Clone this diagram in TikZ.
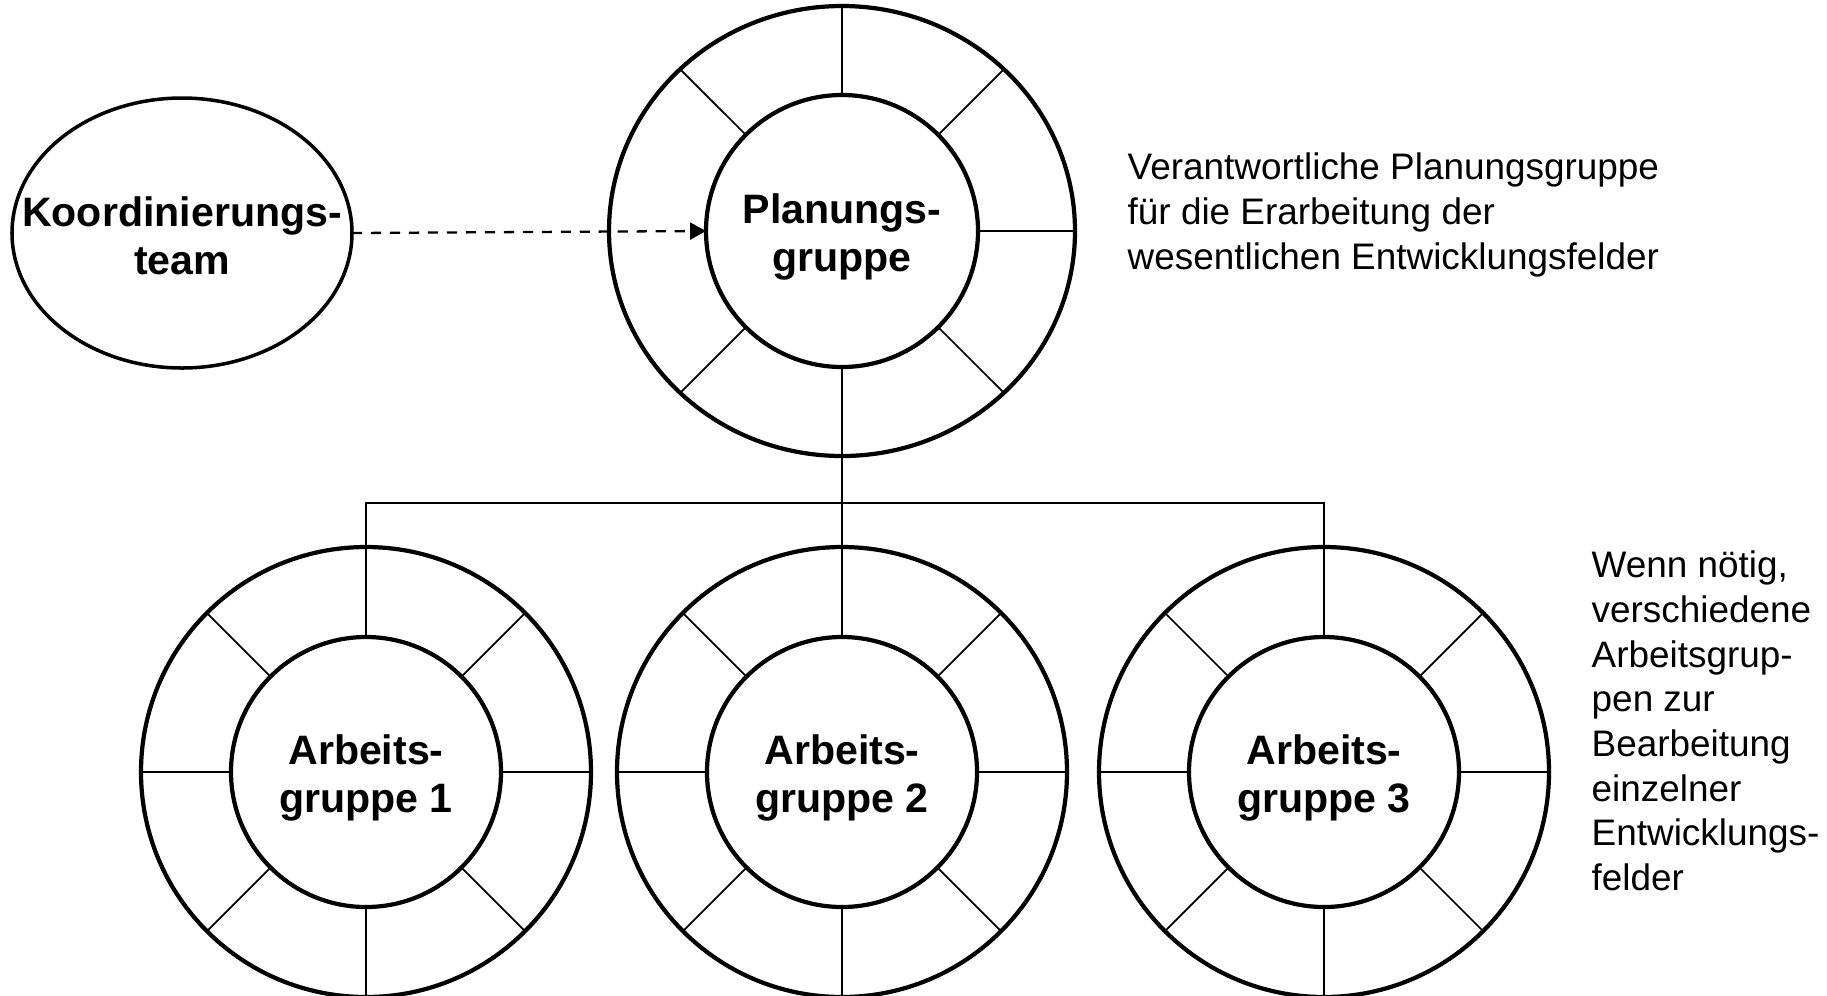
\documentclass[tikz,border=0pt]{standalone}
\usepackage{fontspec}
\setmainfont{Liberation Sans}
\usetikzlibrary{arrows.meta, calc, positioning, shapes.geometric}
\tikzset{
  ringouter/.style  = {ellipse, draw=black, line width=1.2pt, outer sep=0pt,
                       inner sep=0pt, minimum width=4.50cm, minimum height=4.50cm},
  ringinner/.style  = {circle, draw=black, line width=1.2pt, outer sep=0pt,
                       inner sep=0pt, minimum size=2.70cm},
  ringspoke/.style  = {draw=black, line width=0.5pt},
  teamoval/.style   = {ellipse, draw=black, line width=1pt, outer sep=0pt,
                       inner sep=0pt, minimum width=3.40cm, minimum height=2.70cm},
  grouplabel/.style = {font=\bfseries\fontsize{11.7pt}{13.7pt}\selectfont,
                       align=center, inner sep=0pt},
  notetext/.style   = {font=\fontsize{10.5pt}{12.7pt}\selectfont, align=left,
                       inner sep=0pt, anchor=north west},
  treeline/.style   = {draw=black, line width=0.5pt},
  dasharrow/.style  = {draw=black, line width=0.65pt, dash pattern=on 2.9pt off 2.5pt,
                       -{Triangle[length=4.5pt, width=4.8pt]}},
}
\begin{document}
\begin{tikzpicture}
  \useasboundingbox (0,0) rectangle (18.27,-9.95);
  \node[teamoval] (KT) at (1.82,-2.33) {};
  \node[grouplabel] (KTtext) at ([yshift=-0.03cm]KT.center) {Koordinierungs-\\team};

  \node[ringouter, minimum width=4.66cm] (PG) at (8.42,-2.31) {};
  \node[ringinner, minimum size=2.72cm] (PGin) at (PG.center) {};
  \node[grouplabel] (PGtext) at ([yshift=-0.06cm]PGin.center) {Planungs-\\gruppe};
  \foreach \a in {0,45,90,135,225,270,315}
    \draw[ringspoke] (PGin.\a) -- (PG.\a);

  \foreach \i/\x in {1/3.66, 2/8.42, 3/13.24} {
    \node[ringouter] (AG\i) at (\x,-7.72) {};
    \node[ringinner] (AGin\i) at (AG\i.center) {};
    \node[grouplabel] (AGtext\i) at ([yshift=-0.06cm]AGin\i.center) {Arbeits-\\gruppe \i};
    \foreach \a in {0,45,...,315}
      \draw[ringspoke] (AGin\i.\a) -- (AG\i.\a);
  }

  \draw[dasharrow] (KT.east) -- (PGin.west);

  \coordinate (J) at (8.42,-5.03);
  \draw[treeline] (PG.south) -- (J);
  \draw[treeline] (AG1.north) |- (J) -| (AG3.north);
  \draw[treeline] (J) -- (AG2.north);

  \node[notetext] (NoteP) at (11.27,-1.525) {Verantwortliche Planungsgruppe\\
    für die Erarbeitung der\\wesentlichen Entwicklungsfelder};
  \node[notetext] (NoteA) at (15.91,-5.505) {Wenn nötig,\\verschiedene\\
    Arbeitsgrup-\\pen zur\\Bearbeitung\\einzelner\\Entwicklungs-\\felder};
\end{tikzpicture}
\end{document}
